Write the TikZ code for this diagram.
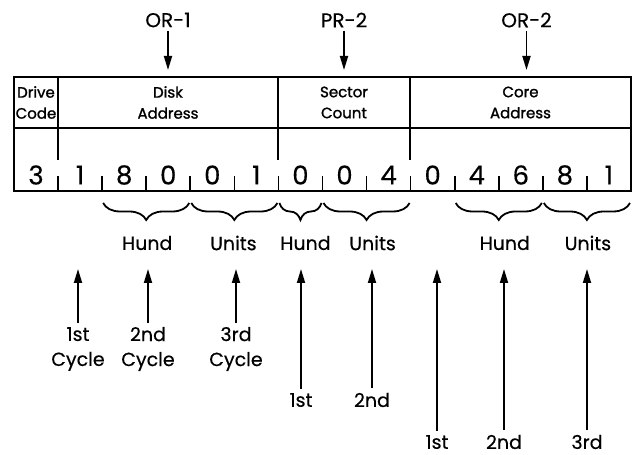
\documentclass[tikz,border=0pt]{standalone}
\usepackage{fontspec}
\setmainfont{Poppins}[FakeBold=0.4]
\newfontfamily\headfont{Poppins}[FakeBold=1.4]
\usetikzlibrary{arrows.meta,calc,decorations.pathreplacing}

\begin{document}
\begin{tikzpicture}[
  x=0.5pt, y=0.5pt,
  >={Triangle[length=7pt, width=4pt]},
  field/.style={draw, line width=1.1pt, inner sep=0pt, outer sep=0pt, minimum height=25.5pt, anchor=north west, align=center, font=\headfont\fontsize{7.5}{10.5}\selectfont},
  digit/.style={inner sep=0pt, font=\fontsize{13}{13}\selectfont},
  tick/.style={draw, line width=0.8pt},
  bracket/.style={draw, line width=0.9pt, decorate, decoration={brace, mirror, amplitude=8.5pt}},
  reg/.style={inner sep=1.5pt, font=\fontsize{10}{12}\selectfont},
  small/.style={inner sep=2pt, align=center, font=\fontsize{9.5}{12.5}\selectfont},
  link/.style={->, line width=0.9pt}
]
\useasboundingbox (0,0) rectangle (633,455);

% Header fields of the instruction
\node[field, minimum width=22pt] (drive) at (14,378) {Drive\\Code};
\node[field, minimum width=110pt] (disk) at (drive.north east) {Disk\\Address};
\node[field, minimum width=66pt] (sector) at (disk.north east) {Sector\\Count};
\node[field, minimum width=110.5pt] (core) at (sector.north east) {Core\\Address};
\foreach \f in {drive, disk, sector}
  \draw[line width=1.1pt] (\f.south east) -- ++(0,-32);

% Row of digits
\node[field, minimum width=308.5pt, minimum height=31.5pt] (row) at (drive.south west) {};
\foreach \d [count=\i] in {3,1,8,0,0,1,0,0,4,0,4,6,8,1}
  \node[digit] (d\i) at ($(row.south west)+(\i*44.07-22.04,16)$) {\d};
\foreach \i in {1,...,13}
  \draw[tick] ($(row.south west)+(\i*44.07,0)$) -- ++(0,15);

% Registers loaded from the fields
\node[reg] (or1) at ($(disk.north)+(0,57)$) {OR-1};
\node[reg] (pr2) at ($(sector.north)+(0,57)$) {PR-2};
\node[reg] (or2) at ($(core.north)+(6,57)$) {OR-2};
\draw[link, shorten >=3.5pt] (or1.south) -- (disk.north);
\draw[link, shorten >=3.5pt] (pr2.south) -- (sector.north);
\draw[link, shorten >=3.5pt] (or2.south) -- (or2.south|-core.north);

% Hundreds and units under the digits
\foreach \a/\b/\dx/\name/\txt in {2/4/1/dhund/Hund, 4/6/-1/dunits/Units, 6/7/5/shund/Hund, 7/9/6/sunits/Units, 10/12/6/chund/Hund, 12/14/1/cunits/Units} {
  \draw[bracket] ($(row.south west)+(\a*44.07+1,-12)$) -- ($(row.south west)+(\b*44.07-1,-12)$);
  \node[small] (\name) at ($(row.south west)+({(\a+\b)*22.035+\dx},-52)$) {\txt};
}

% Cycles
\coordinate (tips) at (0,186);
\node[small] (cyc1) at (78,106) {1st\\Cycle};
\node[small] (cyc2) at (148,106) {2nd\\Cycle};
\node[small] (cyc3) at (236,106) {3rd\\Cycle};
\node[small] (sc1) at (301,55) {1st};
\node[small] (sc2) at (372,55) {2nd};
\node[small] (cc1) at (437,13) {1st};
\node[small] (cc2) at (504,13) {2nd};
\node[small] (cc3) at (587,13) {3rd};
\foreach \n in {cyc1, cyc2, cyc3, sc1, sc2, cc1, cc2, cc3}
  \draw[link] (\n.north) -- (\n.north|-tips);

\end{tikzpicture}
\end{document}
